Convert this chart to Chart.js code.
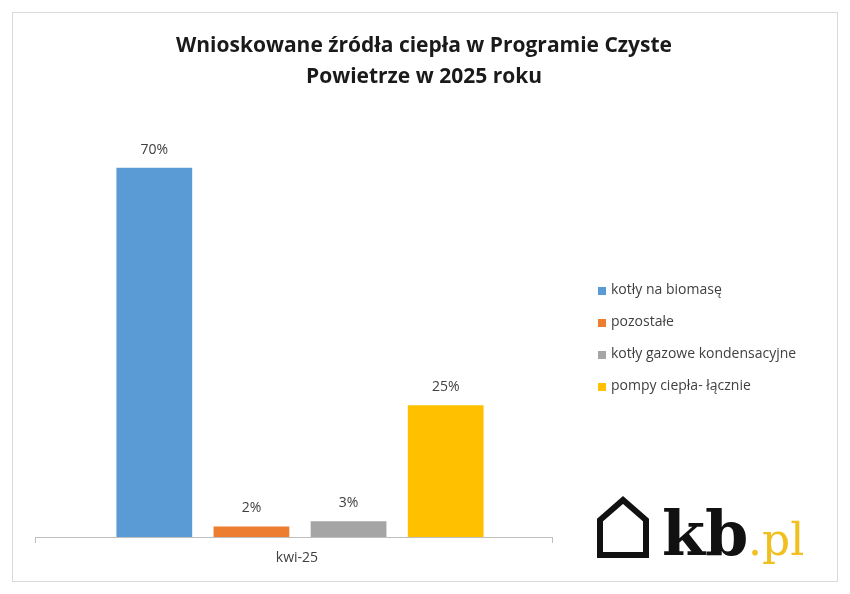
<!DOCTYPE html>
<html><head><meta charset="utf-8">
<script src="https://cdn.jsdelivr.net/npm/chart.js@4/dist/chart.umd.min.js"></script>
<style>html,body{margin:0;padding:0;background:#fff}#w{width:850px;height:594px}</style>
</head><body><div id="w"><canvas id="c"></canvas></div>
<script>
const categories = ["kwi-25"];
const seriesNames = ["kotły na biomasę","pozostałe","kotły gazowe kondensacyjne","pompy ciepła- łącznie"];
const seriesValues = [[70],[2],[3],[25]];
const seriesColors = ["#5b9bd5","#ed7d31","#a5a5a5","#ffc000"];
const titleLines = ["Wnioskowane źródła ciepła w Programie Czyste","Powietrze w 2025 roku"];

const deco = {
  id:'deco',
  beforeDraw(ch){
    const c=ch.ctx; c.save();
    c.fillStyle='#fff'; c.fillRect(0,0,ch.width,ch.height);
    c.strokeStyle='#d9d9d9'; c.lineWidth=1; c.strokeRect(12.5,12.5,825,569);
    c.restore();
  },
  afterDraw(ch){
    const c=ch.ctx, a=ch.chartArea; c.save();
    c.fillStyle='#1a1a1a'; c.font='bold 21px "Open Sans", sans-serif'; c.textAlign='center'; c.textBaseline='middle';
    titleLines.forEach((t,i)=>c.fillText(t,424,46+i*31));
    const L=a.left-6, R=a.right-6;
    c.strokeStyle='#bfbfbf'; c.lineWidth=1;
    c.beginPath(); c.moveTo(L,a.bottom+0.5); c.lineTo(R,a.bottom+0.5);
    c.moveTo(L+0.5,a.bottom); c.lineTo(L+0.5,a.bottom+6);
    c.moveTo(R-0.5,a.bottom); c.lineTo(R-0.5,a.bottom+6); c.stroke();
    c.fillStyle='#404040'; c.font='14px "Open Sans", sans-serif';
    c.fillText(categories[0],(L+R)/2+3,558);
    ch.data.datasets.forEach((d,i)=>{
      const el=ch.getDatasetMeta(i).data[0];
      c.fillText(d.data[0]+'%',el.x,el.y-18);
    });
    c.textAlign='left';
    seriesNames.forEach((n,i)=>{
      const y=290+i*32;
      c.fillStyle=seriesColors[i]; c.fillRect(598,y-3,8,8);
      c.fillStyle='#404040'; c.fillText(n,611,y);
    });
    c.strokeStyle='#111'; c.lineWidth=6; c.lineJoin='miter';
    c.beginPath(); c.moveTo(600,555); c.lineTo(600,520); c.lineTo(623,500); c.lineTo(646,520); c.lineTo(646,555); c.closePath(); c.stroke();
    c.fillStyle='#111'; c.font='bold 62px "DejaVu Serif", serif'; c.textBaseline='alphabetic';
    c.fillText('kb',662,555);
    c.fillStyle='#f0c020'; c.font='44px "DejaVu Serif", serif';
    c.fillText('.pl',748,555);
    c.restore();
  }
};

new Chart(document.getElementById('c'),{
  type:'bar',
  data:{labels:categories,datasets:seriesNames.map((n,i)=>({label:n,data:seriesValues[i],backgroundColor:seriesColors[i]}))},
  options:{responsive:true,maintainAspectRatio:false,animation:false,
    layout:{padding:{left:41,right:291,top:115,bottom:57}},
    datasets:{bar:{categoryPercentage:0.75,barPercentage:0.78}},
    plugins:{legend:{display:false},title:{display:false},tooltip:{enabled:false}},
    scales:{x:{display:false},y:{display:false,min:0,max:80}}},
  plugins:[deco]
});
</script></body></html>
